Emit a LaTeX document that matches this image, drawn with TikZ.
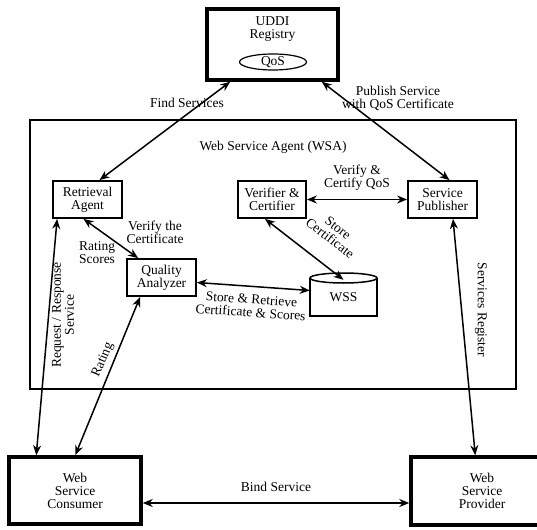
\documentclass[tikz,border=0pt]{standalone}
\usepackage{fontspec}
\setmainfont{Liberation Serif}
\usetikzlibrary{arrows.meta,shapes.geometric}
\begin{document}
\begin{tikzpicture}[x=1pt,y=-1pt,
  every node/.style={font=\fontsize{13.5}{13}\selectfont, align=center, inner sep=0pt},
  box/.style={draw, line width=1.8pt, minimum width=#1, minimum height=37pt},
  bigbox/.style={draw, line width=3.5pt},
  conn/.style={line width=1.5pt, {Stealth[length=10pt,width=8pt]}-{Stealth[length=10pt,width=8pt]}}
]
\useasboundingbox (0,0) rectangle (537,529);
% UDDI
\node[bigbox, minimum width=131pt, minimum height=71pt] (uddi) at (272.5,44.5) {};
\node (uddit) at (272.5,29) {UDDI\\Registry};
\node[draw, ellipse, line width=1.2pt, minimum width=67pt, minimum height=16pt] (qos) at (273,62) {QoS};
% WSA
\node[draw, line width=2.6pt, minimum width=486pt, minimum height=269pt] (wsa) at (273,254.5) {};
\node (wsat) at (273,147) {Web Service Agent (WSA)};
% inner boxes
\node[box=69pt] (ra) at (87.5,199.5) {Retrieval\\Agent};
\node[box=69pt] (qa) at (161.5,277.5) {Quality\\Analyzer};
\node[box=68pt] (vc) at (272,199.5) {Verifier \&\\Certifier};
\node[box=69pt] (sp) at (442.5,199.5) {Service\\Publisher};
% WSS cylinder
\node[minimum width=67pt, minimum height=43pt] (wss) at (343.5,294.5) {};
\draw[line width=1.5pt, fill=white] (wss.north west) ++(0,5) -- (wss.south west) -- (wss.south east) -- ++(0,-38);
\draw[line width=1.5pt] (343.5,278) ellipse [x radius=33.5, y radius=5];
\node at (343.5,297) {WSS};
% consumer / provider
\node[bigbox, minimum width=132pt, minimum height=67pt] (wsc) at (75,490.5) {Web\\Service\\Consumer};
\node[bigbox, minimum width=142pt, minimum height=68pt] (wsp) at (482,491) {Web\\Service\\Provider};
% connectors
\draw[conn] ([xshift=25pt]uddi.south west) -- ([xshift=12pt]ra.north);
\draw[conn] ([xshift=-18pt]uddi.south east) -- ([xshift=7pt]sp.north);
\draw[conn] (vc.east) -- (sp.west);
\draw[conn] ([xshift=-7pt]vc.south) -- ([yshift=-7pt]wss.north);
\draw[conn] ([yshift=-5pt]qa.east) -- ([yshift=4pt]wss.west);
\draw[conn] ([xshift=-4pt]ra.south) -- ([xshift=12pt]qa.north west);
\draw[conn] ([xshift=5pt]ra.south west) -- ([xshift=29pt]wsc.north west);
\draw[conn] ([xshift=68pt]wsc.north west) -- ([xshift=14pt]qa.south west);
\draw[conn] ([xshift=10.5pt]sp.south) -- ([xshift=66pt]wsp.north west);
\draw[conn] ([yshift=-12.5pt]wsc.east) -- ([yshift=-12pt]wsp.west);
% labels
\node (l1) at (187,103) {Find Services};
\node (l2) at (398,98) {Publish Service\\with QoS Certificate};
\node (l3) at (357,178) {Verify \&\\Certify QoS};
\node[rotate=-38] (l4) at (334,233) {Store\\Certificate};
\node (l5) at (155,232) {Verify the\\Certificate};
\node (l6) at (97,253) {Rating\\Scores};
\node[rotate=-4] (l7) at (251,306) {Store \& Retrieve\\Certificate \& Scores};
\node[rotate=90] (l8) at (63,315) {Request / Response\\Service};
\node[rotate=67] (l9) at (103,360) {Rating};
\node[rotate=-90] (l10) at (481,310) {Services Register};
\node (l11) at (276,487) {Bind Service};
\end{tikzpicture}
\end{document}
